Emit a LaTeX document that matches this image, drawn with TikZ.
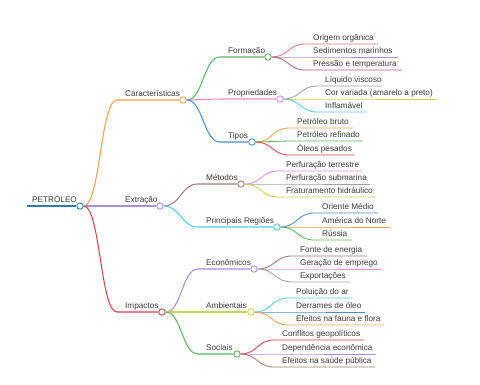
\documentclass[tikz,border=0pt]{standalone}
\usepackage{fontspec}
\setmainfont{Liberation Sans}
\usetikzlibrary{calc}
\definecolor{cRoot}{HTML}{2B7BBF}
\definecolor{cOrange}{HTML}{F5A04F}
\definecolor{cLav}{HTML}{A98FD8}
\definecolor{cRed}{HTML}{D9434E}
\definecolor{cGreen}{HTML}{5BB85D}
\definecolor{cPink}{HTML}{E68FD8}
\definecolor{cBlue}{HTML}{4A8FD0}
\definecolor{cRose}{HTML}{E0707F}
\definecolor{cDRose}{HTML}{B65C6C}
\definecolor{cGray}{HTML}{A0A0A0}
\definecolor{cYG}{HTML}{C8D45A}
\definecolor{cCyan}{HTML}{55CDE0}
\definecolor{cBrown}{HTML}{A67C7C}
\definecolor{cTxt}{HTML}{3A3A3A}
\tikzset{
  edge/.style={line width=1.05pt},
  leafedge/.style={line width=0.85pt},
  dot/.style={circle, draw, fill=white, line width=0.9pt, minimum size=6.4pt, inner sep=0pt},
  lbl/.style={font=\fontsize{8.2}{9}\selectfont, text=cTxt, inner sep=0pt, anchor=base west}
}
% #1 name, #2 parent, #3 start x, #4 y, #5 circle x, #6 colour, #7 text
\newcommand\innerbranch[7]{%
  \coordinate (#1s) at (#3,#4);
  \coordinate (#1m) at ($(#2.east)!0.5!(#1s)$);
  \node[dot, draw=#6] (#1) at (#5,#4) {};
  \draw[edge, #6] (#2.east) .. controls (#1m |- #2.east) and (#1m |- #1s) .. (#1s) -- (#1.west);
  \node[lbl] (#1t) at ([xshift=8pt,yshift=3.2pt]#1s) {#7};
}
% #1 name, #2 parent, #3 start x, #4 y, #5 end x, #6 colour, #7 text
\newcommand\leafbranch[7]{%
  \coordinate (#1s) at (#3,#4);
  \coordinate (#1e) at (#5,#4);
  \coordinate (#1m) at ($(#2.east)!0.5!(#1s)$);
  \draw[leafedge, #6] (#2.east) .. controls (#1m |- #2.east) and (#1m |- #1s) .. (#1s) -- (#1e);
  \node[lbl] (#1t) at ([xshift=8pt,yshift=3.2pt]#1s) {#7};
}
\begin{document}
\begin{tikzpicture}[x=1pt,y=-1pt]
\useasboundingbox[fill=white] (0,0) rectangle (480,384);
% root
\coordinate (roots) at (27,206);
\node[dot, draw=cRoot] (root) at (80,206) {};
\draw[edge, cRoot, line width=1.3pt] (roots) -- (root.west);
\node[lbl] (roott) at ([xshift=5pt,yshift=3.2pt]roots) {PETRÓLEO};
% level 1
\innerbranch{car}{root}{117}{100}{183}{cOrange}{Características}
\innerbranch{ext}{root}{117}{206}{160}{cLav}{Extração}
\innerbranch{imp}{root}{117}{312}{162}{cRed}{Impactos}
% Características
\innerbranch{for}{car}{220}{57}{268}{cGreen}{Formação}
\innerbranch{pro}{car}{220}{99}{280}{cPink}{Propriedades}
\innerbranch{tip}{car}{220}{142}{252}{cBlue}{Tipos}
\leafbranch{f1}{for}{305}{44}{378}{cRose}{Origem orgânica}
\leafbranch{f2}{for}{305}{57}{398}{cLav}{Sedimentos marinhos}
\leafbranch{f3}{for}{305}{70}{402}{cDRose}{Pressão e temperatura}
\leafbranch{p1}{pro}{317}{86}{382}{cGray}{Líquido viscoso}
\leafbranch{p2}{pro}{317}{99}{437}{cYG}{Cor variada (amarelo a preto)}
\leafbranch{p3}{pro}{317}{112}{367}{cCyan}{Inflamável}
\leafbranch{t1}{tip}{289}{128}{353}{cOrange}{Petróleo bruto}
\leafbranch{t2}{tip}{289}{141}{363}{cGreen}{Petróleo refinado}
\leafbranch{t3}{tip}{289}{155}{355}{cRed}{Óleos pesados}
% Extração
\innerbranch{met}{ext}{198}{184}{241}{cBrown}{Métodos}
\innerbranch{reg}{ext}{198}{227}{277}{cCyan}{Principais Regiões}
\leafbranch{m1}{met}{278}{171}{362}{cPink}{Perfuração terrestre}
\leafbranch{m2}{met}{278}{184}{370}{cGray}{Perfuração submarina}
\leafbranch{m3}{met}{278}{197}{376}{cYG}{Fraturamento hidráulico}
\leafbranch{r1}{reg}{314}{213}{378}{cBlue}{Oriente Médio}
\leafbranch{r2}{reg}{314}{227}{390}{cOrange}{América do Norte}
\leafbranch{r3}{reg}{314}{240}{352}{cGreen}{Rússia}
% Impactos
\innerbranch{eco}{imp}{198}{269}{254}{cLav}{Econômicos}
\innerbranch{amb}{imp}{198}{312}{251}{cYG}{Ambientais}
\innerbranch{soc}{imp}{198}{354}{237}{cGreen}{Sociais}
\leafbranch{e1}{eco}{292}{256}{367}{cBrown}{Fonte de energia}
\leafbranch{e2}{eco}{292}{269}{382}{cPink}{Geração de emprego}
\leafbranch{e3}{eco}{292}{282}{350}{cGray}{Exportações}
\leafbranch{a1}{amb}{288}{298}{352}{cCyan}{Poluição do ar}
\leafbranch{a2}{amb}{288}{312}{365}{cBlue}{Derrames de óleo}
\leafbranch{a3}{amb}{288}{325}{384}{cOrange}{Efeitos na fauna e flora}
\leafbranch{s1}{soc}{274}{340}{364}{cRed}{Conflitos geopolíticos}
\leafbranch{s2}{soc}{274}{354}{376}{cLav}{Dependência econômica}
\leafbranch{s3}{soc}{274}{367}{375}{cBrown}{Efeitos na saúde pública}
\end{tikzpicture}
\end{document}
